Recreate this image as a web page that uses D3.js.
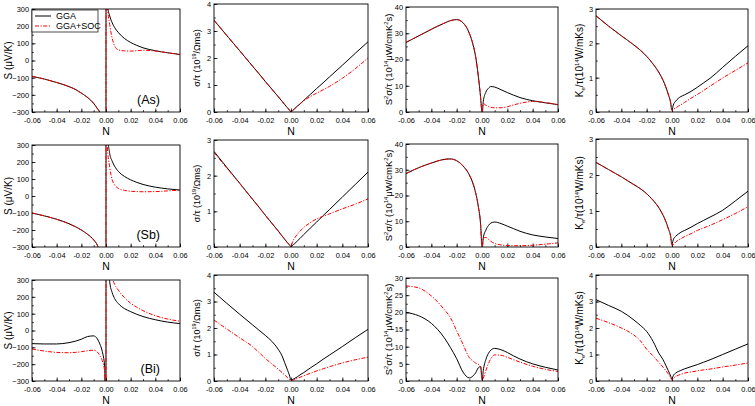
<!DOCTYPE html>
<html><head><meta charset="utf-8">
<script src="https://cdn.jsdelivr.net/npm/d3@7"></script>
<style>body{margin:0;background:#fff}svg{display:block;font-family:"Liberation Sans",Arial,sans-serif}</style>
</head><body><svg id="c" width="755" height="406"></svg>
<script>
// ---------------- DATA ----------------
const N = [-0.06,-0.05,-0.04,-0.03,-0.025,-0.02,-0.015,-0.01,-0.007,-0.005,-0.003,-0.001,-0.0002,0.0002,0.001,0.003,0.005,0.007,0.01,0.015,0.02,0.025,0.03,0.04,0.05,0.06];
const seriesNames = ["GGA","GGA+SOC"];
const elements = ["(As)","(Sb)","(Bi)"];
const xTicks = [-0.06,-0.04,-0.02,0.00,0.02,0.04,0.06];

// As
const As_S_GGA  = [-92,-108,-128,-152,-168,-190,-215,-250,-280,-305,-400,-800,-3000,3000,330,260,220,192,163,128,105,88,74,57,45,35];
const As_S_SOC  = [-92,-108,-128,-152,-168,-190,-215,-250,-280,-305,-400,-800,-3000,3000,330,210,130,85,62,56,55,57,60,55,45,35];
const As_sig_GGA= [3.4,2.83,2.27,1.7,1.42,1.13,0.85,0.57,0.4,0.28,0.17,0.06,0.01,0.01,0.04,0.13,0.22,0.3,0.43,0.65,0.87,1.08,1.3,1.73,2.17,2.6];
const As_sig_SOC= [3.4,2.83,2.27,1.7,1.42,1.13,0.85,0.57,0.4,0.28,0.17,0.06,0.01,0.01,0.04,0.13,0.22,0.3,0.42,0.57,0.7,0.82,0.95,1.25,1.6,2.0];
const As_PF_GGA = [26.5,29,31.5,33.8,34.8,35.2,34,30,25.5,21,14,5,0.5,0,4,7.5,9,9.7,9.5,8.5,7.4,6.4,5.5,4.3,3.5,2.8];
const As_PF_SOC = [26.5,29,31.5,33.8,34.8,35.2,34,30,25.5,21,14,5,0.5,0,3.2,2.6,2.1,1.8,1.6,1.6,2.0,2.7,3.3,4.0,3.6,2.8];
const As_Ke_GGA = [2.8,2.5,2.22,1.95,1.8,1.62,1.4,1.13,0.92,0.74,0.52,0.26,0.06,0.08,0.2,0.32,0.4,0.45,0.5,0.6,0.72,0.85,0.98,1.3,1.62,1.93];
const As_Ke_SOC = [2.8,2.5,2.22,1.95,1.8,1.62,1.4,1.13,0.92,0.74,0.52,0.26,0.06,0.04,0.08,0.12,0.17,0.21,0.28,0.4,0.51,0.63,0.75,0.99,1.21,1.43];
// Sb
const Sb_S_GGA  = [-100,-117,-137,-163,-180,-200,-225,-258,-290,-330,-420,-800,-3000,3000,400,250,205,175,145,115,95,80,68,52,42,35];
const Sb_S_SOC  = [-100,-117,-137,-163,-180,-200,-225,-258,-290,-330,-420,-800,-3000,3000,300,170,95,65,45,33,28,26,25,26,30,35];
const Sb_sig_GGA= [2.68,2.23,1.79,1.34,1.12,0.89,0.67,0.45,0.31,0.22,0.13,0.05,0.01,0.01,0.04,0.1,0.17,0.24,0.35,0.53,0.7,0.88,1.05,1.4,1.75,2.1];
const Sb_sig_SOC= [2.65,2.21,1.78,1.34,1.12,0.89,0.67,0.45,0.31,0.22,0.13,0.05,0.01,0.02,0.12,0.26,0.36,0.44,0.55,0.68,0.79,0.86,0.93,1.07,1.2,1.35];
const Sb_PF_GGA = [28.5,30.8,32.6,34.0,34.2,33.5,31.5,28,24.5,21,16,8,1,0,3.5,6.5,8.3,9.3,9.7,9.1,8.1,7.1,6.1,4.7,3.9,3.3];
const Sb_PF_SOC = [28.5,30.8,32.6,34.0,34.2,33.5,31.5,28,24.5,21,16,8,1,0,3.5,3.7,3.0,2.2,1.4,0.8,0.6,0.5,0.5,0.7,1.1,1.6];
const Sb_Ke_GGA = [2.35,2.15,1.95,1.73,1.62,1.48,1.3,1.07,0.88,0.72,0.52,0.28,0.08,0.1,0.2,0.3,0.36,0.41,0.46,0.55,0.65,0.74,0.83,1.02,1.28,1.55];
const Sb_Ke_SOC = [2.35,2.15,1.95,1.73,1.62,1.48,1.3,1.07,0.88,0.72,0.52,0.28,0.08,0.03,0.06,0.14,0.19,0.23,0.29,0.37,0.46,0.53,0.6,0.76,0.93,1.12];
// Bi
const Bi_S_GGA  = [-78,-80,-80,-72,-64,-52,-36,-32,-50,-80,-125,-220,-3000,3000,700,290,225,190,160,130,112,96,83,64,50,41];
const Bi_S_SOC  = [-110,-122,-130,-132,-130,-126,-120,-117,-128,-150,-180,-250,-3000,3000,1000,500,320,275,240,195,162,138,118,88,68,55];
const Bi_sig_GGA= [3.35,2.93,2.52,2.12,1.92,1.72,1.5,1.2,0.95,0.7,0.45,0.18,0.04,0.02,0.05,0.1,0.16,0.23,0.32,0.49,0.65,0.82,0.98,1.3,1.63,1.95];
const Bi_sig_SOC= [2.3,1.96,1.63,1.3,1.08,0.85,0.65,0.45,0.32,0.23,0.14,0.05,0.01,0.01,0.02,0.06,0.1,0.14,0.2,0.29,0.38,0.46,0.54,0.68,0.8,0.9];
const Bi_PF_GGA = [20,19,16.8,12.7,9.8,6.5,2.6,0.9,1.5,2.4,3.8,4.2,1,0.3,3,6.2,8,9,9.5,9.1,8.3,7.3,6.4,5.0,4.0,3.2];
const Bi_PF_SOC = [27.7,27.1,24.8,20.9,18.5,14.6,10.7,6.8,5.8,5.2,4.9,3.9,1,0.2,0.8,3,5,6.5,7.6,7.5,6.9,6.2,5.5,4.3,3.4,2.8];
const Bi_Ke_GGA = [3.07,2.85,2.63,2.3,2.1,1.87,1.5,1.02,0.8,0.6,0.4,0.18,0.08,0.1,0.2,0.3,0.36,0.4,0.46,0.54,0.62,0.71,0.8,1.0,1.2,1.4];
const Bi_Ke_SOC = [2.37,2.2,2.0,1.73,1.52,1.2,0.95,0.68,0.52,0.4,0.27,0.12,0.05,0.05,0.1,0.17,0.22,0.25,0.3,0.34,0.38,0.42,0.45,0.53,0.6,0.68];

// y tick values
const yTicksS   = [-300,-200,-100,0,100,200,300];
const yTicks3   = [0,1,2,3];
const yTicks4   = [0,1,2,3,4];
const yTicksPF40= [0,10,20,30,40];
const yTicksPF30= [0,5,10,15,20,25,30];

// ---------------- LAYOUT ----------------
const svg = d3.select("#c");
const colX = [[32,180],[214,368],[406,558],[596,748]];
const rowTop = [[9,4,7,9],[145,140,144,139],[280,275,278,275]];
const rowBottom = [112,247,381];

const yLabels = [
  [{t:"S (μV/K)"}],
  [{t:"σ/τ (10"},{t:"19",sup:1},{t:"/Ωms)"}],
  [{t:"S"},{t:"2",sup:1},{t:"σ/τ (10"},{t:"14",sup:1},{t:"μW/cmK"},{t:"2",sup:1},{t:"s)"}],
  [{t:"K"},{t:"e",sub:1},{t:"/τ(10"},{t:"14",sup:1},{t:"W/mKs)"}]
];
const yLabelX = [9, 198, 389, 580];
const yLabelSize = [10, 9, 9.5, 10];

const panels = [
  {r:0,c:0,d:[As_S_GGA,As_S_SOC],yd:[-300,300],yt:yTicksS,ym:50},
  {r:0,c:1,d:[As_sig_GGA,As_sig_SOC],yd:[0,4],yt:yTicks4,ym:0.5},
  {r:0,c:2,d:[As_PF_GGA,As_PF_SOC],yd:[0,40],yt:yTicksPF40,ym:5},
  {r:0,c:3,d:[As_Ke_GGA,As_Ke_SOC],yd:[0,3],yt:yTicks3,ym:0.5},
  {r:1,c:0,d:[Sb_S_GGA,Sb_S_SOC],yd:[-300,300],yt:yTicksS,ym:50},
  {r:1,c:1,d:[Sb_sig_GGA,Sb_sig_SOC],yd:[0,3],yt:yTicks3,ym:0.5},
  {r:1,c:2,d:[Sb_PF_GGA,Sb_PF_SOC],yd:[0,40],yt:yTicksPF40,ym:5},
  {r:1,c:3,d:[Sb_Ke_GGA,Sb_Ke_SOC],yd:[0,3],yt:yTicks3,ym:0.5},
  {r:2,c:0,d:[Bi_S_GGA,Bi_S_SOC],yd:[-300,300],yt:yTicksS,ym:50},
  {r:2,c:1,d:[Bi_sig_GGA,Bi_sig_SOC],yd:[0,4],yt:yTicks4,ym:0.5},
  {r:2,c:2,d:[Bi_PF_GGA,Bi_PF_SOC],yd:[0,30],yt:yTicksPF30,ym:2.5},
  {r:2,c:3,d:[Bi_Ke_GGA,Bi_Ke_SOC],yd:[0,4],yt:yTicks4,ym:0.5}
];
const styles = [{stroke:"#000",dash:null},{stroke:"#ff0000",dash:"4,1.5,1.2,1.5"}];

panels.forEach((p,i)=>{
  const [x0,x1] = colX[p.c];
  const y0 = rowTop[p.r][p.c], y1 = rowBottom[p.r];
  const x = d3.scaleLinear().domain([-0.06,0.06]).range([x0,x1]);
  const y = d3.scaleLinear().domain(p.yd).range([y1,y0]);
  const g = svg.append("g");
  const cid = "clip"+i;
  g.append("clipPath").attr("id",cid).append("rect")
    .attr("x",x0).attr("y",y0).attr("width",x1-x0).attr("height",y1-y0);

  // minor ticks
  const xMinor = d3.range(-0.06,0.0601,0.01).map(v=>+v.toFixed(3));
  const yMinor = d3.range(p.yd[0],p.yd[1]+1e-9,p.ym);
  g.append("g").attr("transform",`translate(0,${y1})`)
    .call(d3.axisBottom(x).tickValues(xMinor).tickSize(-1.8).tickFormat(""))
    .call(a=>a.select(".domain").remove());
  g.append("g").attr("transform",`translate(${x0},0)`)
    .call(d3.axisLeft(y).tickValues(yMinor).tickSize(-1.8).tickFormat(""))
    .call(a=>a.select(".domain").remove());
  // major axes
  const ax = g.append("g").attr("transform",`translate(0,${y1})`)
    .call(d3.axisBottom(x).tickValues(xTicks).tickSize(-3.5).tickPadding(5.5).tickFormat(d=>d.toFixed(2)));
  ax.select(".domain").remove();
  ax.selectAll("text").attr("font-size",7.4).attr("font-family","Liberation Sans, Arial, sans-serif").attr("fill","#000");
  const ay = g.append("g").attr("transform",`translate(${x0},0)`)
    .call(d3.axisLeft(y).tickValues(p.yt).tickSize(-3.5).tickPadding(3).tickFormat(d3.format("d")));
  ay.select(".domain").remove();
  ay.selectAll("text").attr("font-size",7.4).attr("font-family","Liberation Sans, Arial, sans-serif").attr("fill","#000");
  g.selectAll(".tick line").attr("stroke","#000").attr("stroke-width",0.8);

  const line = d3.line().x((d,k)=>x(N[k])).y(d=>y(d)).curve(d3.curveMonotoneX);
  const lg = g.append("g").attr("clip-path",`url(#${cid})`);
  [0,1].forEach(s=>{
    lg.append("path").datum(p.d[s]).attr("d",line)
      .attr("fill","none").attr("stroke",styles[s].stroke).attr("stroke-width",1)
      .attr("stroke-dasharray",styles[s].dash);
  });

  // frame
  g.append("rect").attr("x",x0).attr("y",y0).attr("width",x1-x0).attr("height",y1-y0)
    .attr("fill","none").attr("stroke","#000").attr("stroke-width",0.9);

  // x label
  g.append("text").attr("x",(x0+x1)/2).attr("y",y1+23).attr("text-anchor","middle")
    .attr("font-size",10.5).text("N");

  // y label
  const cy = (y0+y1)/2, lx = yLabelX[p.c];
  const t = g.append("text").attr("transform",`translate(${lx},${cy}) rotate(-90)`)
    .attr("text-anchor","middle").attr("dominant-baseline","middle").attr("font-size",yLabelSize[p.c]);
  yLabels[p.c].forEach(part=>{
    const ts = t.append("tspan").text(part.t);
    if(part.sup) ts.attr("font-size",yLabelSize[p.c]*0.6).attr("baseline-shift","super");
    if(part.sub) ts.attr("font-size",yLabelSize[p.c]*0.6).attr("baseline-shift","sub");
  });

  // element label
  if(p.c===0){
    g.append("text").attr("x",x1-20).attr("y",y1-8).attr("text-anchor","end")
      .attr("font-size",12.5).text(elements[p.r]);
  }
});

// legend in first panel
const lx0 = colX[0][0], ly0 = rowTop[0][0];
const leg = svg.append("g");
leg.append("rect").attr("x",lx0).attr("y",ly0+1).attr("width",66).attr("height",22)
  .attr("fill","#fff").attr("stroke","#000").attr("stroke-width",0.7);
seriesNames.forEach((n,i)=>{
  const yy = ly0+7+i*10;
  leg.append("line").attr("x1",lx0+3).attr("x2",lx0+19).attr("y1",yy).attr("y2",yy)
    .attr("stroke",styles[i].stroke).attr("stroke-width",1).attr("stroke-dasharray",styles[i].dash);
  leg.append("text").attr("x",lx0+24).attr("y",yy+3).attr("font-size",9).text(n);
});
</script></body></html>
